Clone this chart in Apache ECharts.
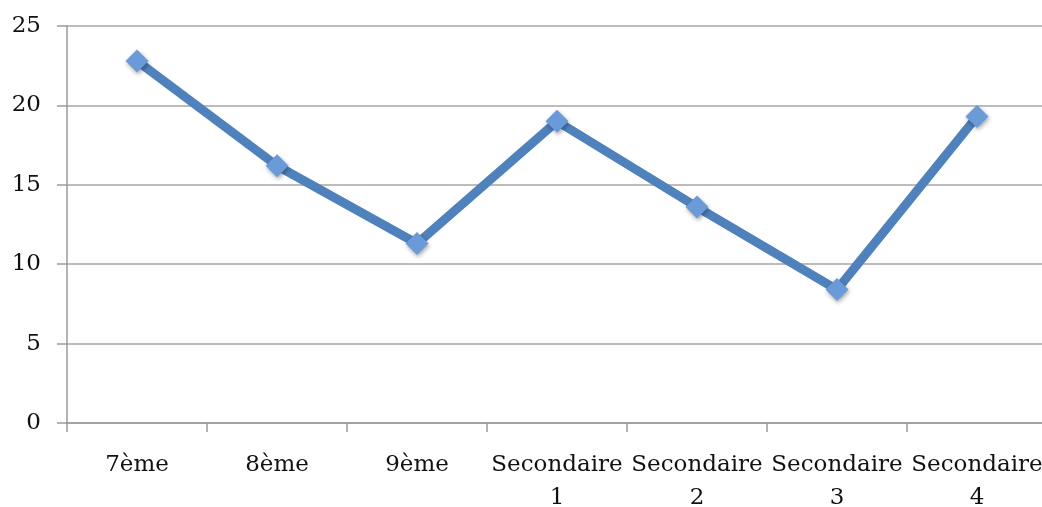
<!DOCTYPE html>
<html>
<head>
<meta charset="utf-8">
<script src="https://cdn.jsdelivr.net/npm/echarts@6/dist/echarts.min.js"></script>
<style>html,body{margin:0;padding:0;background:#fff}#c{width:1042px;height:507px}</style>
</head>
<body>
<div id="c"></div>
<script>
var categories = ['7ème', '8ème', '9ème', 'Secondaire\n1', 'Secondaire\n2', 'Secondaire\n3', 'Secondaire\n4'];
var values = [22.8, 16.2, 11.3, 19.0, 13.6, 8.4, 19.3];
var yMin = 0, yMax = 25, yStep = 5;

var chart = echarts.init(document.getElementById('c'), null, {renderer: 'canvas'});
var font = 'DejaVu Serif';
chart.setOption({
  animation: false,
  grid: {left: 67, width: 980, top: 26, bottom: 84, containLabel: false, outerBoundsMode: 'none'},
  xAxis: {
    type: 'category',
    data: categories,
    boundaryGap: true,
    axisLine: {lineStyle: {color: '#9a9a9a', width: 1.5}},
    axisTick: {show: true, length: 9, lineStyle: {color: '#9a9a9a', width: 1.5}},
    axisLabel: {fontFamily: font, fontSize: 23, color: '#111', margin: 26, lineHeight: 33, interval: 0},
    splitLine: {show: false}
  },
  yAxis: {
    type: 'value',
    min: yMin, max: yMax, interval: yStep,
    axisLine: {show: true, lineStyle: {color: '#9a9a9a', width: 1.5}},
    axisTick: {show: true, length: 10, lineStyle: {color: '#9a9a9a', width: 1.5}},
    axisLabel: {fontFamily: font, fontSize: 23, color: '#111', margin: 26, padding: [11, 0, 0, 0]},
    splitLine: {lineStyle: {color: '#a6a6a6', width: 1.5}}
  },
  series: [{
    type: 'line',
    data: values,
    lineStyle: {color: '#4f81bd', width: 9},
    symbol: 'diamond',
    symbolSize: 23,
    itemStyle: {color: '#6a9ad8', borderWidth: 0, shadowColor: 'rgba(0,0,0,0.35)', shadowBlur: 4, shadowOffsetX: 1, shadowOffsetY: 2},
    z: 3
  }]
});
</script>
</body>
</html>
